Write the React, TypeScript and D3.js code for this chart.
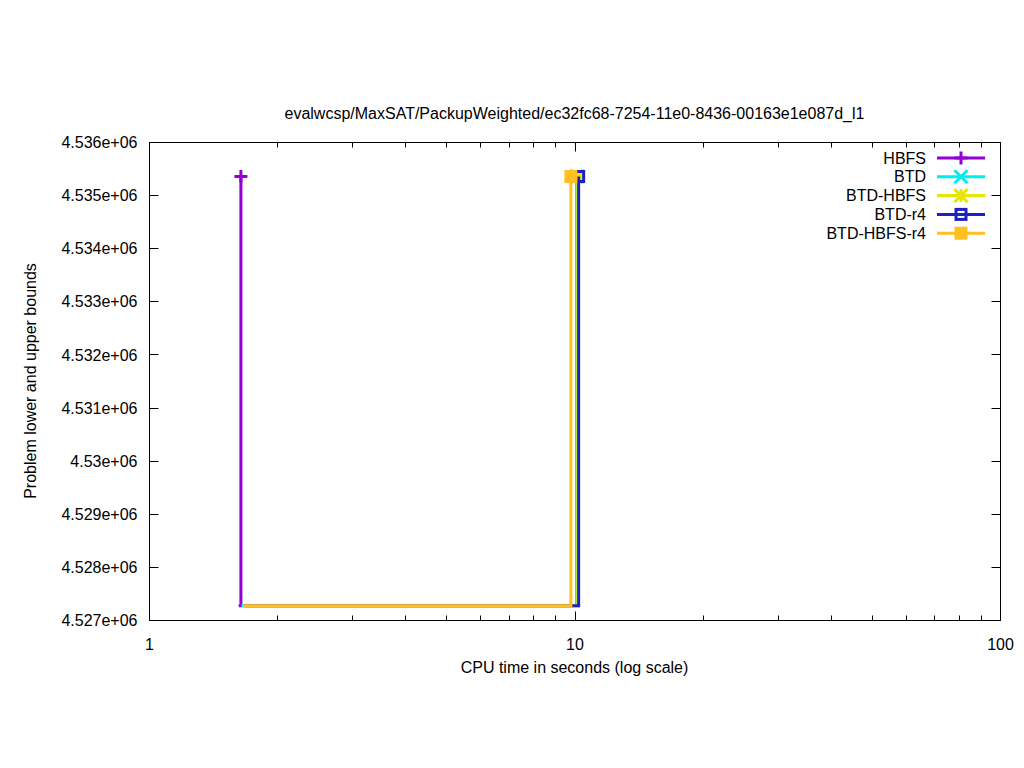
import React, { useRef, useEffect } from "react";
import * as d3 from "d3";

const title = "evalwcsp/MaxSAT/PackupWeighted/ec32fc68-7254-11e0-8436-00163e1e087d_l1";
const seriesNames = ["HBFS", "BTD", "BTD-HBFS", "BTD-r4", "BTD-HBFS-r4"];
const seriesColors = ["#9400d3", "#00eeee", "#e6e600", "#2020c0", "#ffc020"];
const seriesMarkers = ["plus", "cross", "star", "openSquare", "filledSquare"];
// time where lower bound is first found, time where optimum is proved
const startTimes = [1.62, 1.645, 1.66, 1.67, 1.665];
const endTimes = [1.64, 10.08, 10.15, 10.2, 9.78];
const lowerBounds = [4527280, 4527280, 4527280, 4527280, 4527280];
const upperBounds = [4535360, 4535360, 4535360, 4535360, 4535360];

const yTicks = [4527000, 4528000, 4529000, 4530000, 4531000, 4532000, 4533000, 4534000, 4535000, 4536000];
const yTickLabels = ["4.527e+06", "4.528e+06", "4.529e+06", "4.53e+06", "4.531e+06", "4.532e+06", "4.533e+06", "4.534e+06", "4.535e+06", "4.536e+06"];
const xTicks = [1, 10, 100];
const xTickLabels = ["1", "10", "100"];

const FONT = "'Liberation Sans', Arial, sans-serif";
const FS = 16;

export default function App() {
  const svgRef = useRef<SVGSVGElement | null>(null);

  useEffect(() => {
    const width = 1024;
    const height = 768;
    const margin = { top: 142, right: 24, bottom: 148, left: 149 };
    const innerWidth = width - margin.left - margin.right;
    const innerHeight = height - margin.top - margin.bottom;

    d3.select(svgRef.current).selectAll("*").remove();
    const svg = d3.select(svgRef.current)
      .attr("width", width)
      .attr("height", height)
      .style("font-family", FONT);

    svg.append("rect").attr("width", width).attr("height", height).attr("fill", "#fff");

    const g = svg.append("g").attr("transform", `translate(${margin.left + 0.5},${margin.top + 0.5})`);

    const x = d3.scaleLog().domain([1, 100]).range([0, innerWidth]);
    const y = d3.scaleLinear().domain([4527000, 4536000]).range([innerHeight, 0]);

    // ticks (mirrored on all sides, inward)
    const ticks = g.append("g").attr("stroke", "#000").attr("stroke-width", 1);
    yTicks.forEach(v => {
      const yy = Math.round(y(v));
      ticks.append("line").attr("x1", 0).attr("x2", 9).attr("y1", yy).attr("y2", yy);
      ticks.append("line").attr("x1", innerWidth).attr("x2", innerWidth - 9).attr("y1", yy).attr("y2", yy);
    });
    const minor: number[] = [];
    [1, 10].forEach(d => { for (let k = 2; k <= 9; k++) minor.push(d * k); });
    minor.forEach(v => {
      const xx = Math.round(x(v));
      ticks.append("line").attr("x1", xx).attr("x2", xx).attr("y1", innerHeight).attr("y2", innerHeight - 5);
      ticks.append("line").attr("x1", xx).attr("x2", xx).attr("y1", 0).attr("y2", 5);
    });
    xTicks.forEach(v => {
      const xx = Math.round(x(v));
      ticks.append("line").attr("x1", xx).attr("x2", xx).attr("y1", innerHeight).attr("y2", innerHeight - 9);
      ticks.append("line").attr("x1", xx).attr("x2", xx).attr("y1", 0).attr("y2", 9);
    });

    // tick labels
    yTicks.forEach((v, i) => {
      g.append("text")
        .attr("x", -12)
        .attr("y", y(v))
        .attr("dy", "0.35em")
        .attr("text-anchor", "end")
        .attr("font-size", FS)
        .text(yTickLabels[i]);
    });
    xTicks.forEach((v, i) => {
      g.append("text")
        .attr("x", x(v))
        .attr("y", innerHeight + 24)
        .attr("dy", "0.35em")
        .attr("text-anchor", "middle")
        .attr("font-size", FS)
        .text(xTickLabels[i]);
    });

    // series
    const line = d3.line<[number, number]>().x(d => x(d[0])).y(d => y(d[1]));
    const drawMarker = (sel: any, kind: string, cx: number, cy: number, color: string) => {
      const s = 6.5;
      if (kind === "plus") {
        sel.append("path").attr("d", `M${cx - s},${cy}H${cx + s}M${cx},${cy - s}V${cy + s}`)
          .attr("stroke", color).attr("stroke-width", 3).attr("fill", "none");
      } else if (kind === "cross") {
        sel.append("path").attr("d", `M${cx - s},${cy - s}L${cx + s},${cy + s}M${cx - s},${cy + s}L${cx + s},${cy - s}`)
          .attr("stroke", color).attr("stroke-width", 3).attr("fill", "none");
      } else if (kind === "star") {
        sel.append("path").attr("d", `M${cx - s},${cy - s}L${cx + s},${cy + s}M${cx - s},${cy + s}L${cx + s},${cy - s}M${cx - s},${cy}H${cx + s}M${cx},${cy - s}V${cy + s}`)
          .attr("stroke", color).attr("stroke-width", 3).attr("fill", "none");
      } else if (kind === "openSquare") {
        sel.append("rect").attr("x", cx - 5).attr("y", cy - 5).attr("width", 10).attr("height", 10)
          .attr("stroke", color).attr("stroke-width", 3).attr("fill", "none");
      } else {
        sel.append("rect").attr("x", cx - 6.5).attr("y", cy - 6.5).attr("width", 13).attr("height", 13)
          .attr("fill", color);
      }
    };

    seriesNames.forEach((name, i) => {
      const pts: [number, number][] = [
        [startTimes[i], lowerBounds[i]],
        [endTimes[i], lowerBounds[i]],
        [endTimes[i], upperBounds[i]],
      ];
      const sg = g.append("g").attr("class", `series-${name}`);
      sg.append("path")
        .datum(pts)
        .attr("d", line)
        .attr("fill", "none")
        .attr("stroke", seriesColors[i])
        .attr("stroke-width", 3);
      drawMarker(sg, seriesMarkers[i], x(endTimes[i]), y(upperBounds[i]), seriesColors[i]);
    });

    // border
    g.append("rect")
      .attr("width", innerWidth)
      .attr("height", innerHeight)
      .attr("fill", "none")
      .attr("stroke", "#000")
      .attr("stroke-width", 1);

    // legend
    const legend = svg.append("g");
    seriesNames.forEach((name, i) => {
      const ly = 158 + i * 18.8;
      legend.append("text")
        .attr("x", 926)
        .attr("y", ly)
        .attr("dy", "0.35em")
        .attr("text-anchor", "end")
        .attr("font-size", FS)
        .text(name);
      legend.append("line")
        .attr("x1", 937).attr("x2", 985)
        .attr("y1", ly).attr("y2", ly)
        .attr("stroke", seriesColors[i])
        .attr("stroke-width", 3);
      drawMarker(legend, seriesMarkers[i], 961, ly, seriesColors[i]);
    });

    // title and axis labels
    svg.append("text")
      .attr("x", margin.left + innerWidth / 2)
      .attr("y", 113)
      .attr("dy", "0.35em")
      .attr("text-anchor", "middle")
      .attr("font-size", FS)
      .text(title);

    svg.append("text")
      .attr("x", margin.left + innerWidth / 2)
      .attr("y", 667)
      .attr("dy", "0.35em")
      .attr("text-anchor", "middle")
      .attr("font-size", FS)
      .text("CPU time in seconds (log scale)");

    svg.append("text")
      .attr("transform", `translate(30,${margin.top + innerHeight / 2}) rotate(-90)`)
      .attr("dy", "0.35em")
      .attr("text-anchor", "middle")
      .attr("font-size", FS)
      .text("Problem lower and upper bounds");
  }, []);

  return (
    <div style={{ position: "absolute", left: 0, top: 0 }}>
      <svg ref={svgRef}></svg>
    </div>
  );
}
